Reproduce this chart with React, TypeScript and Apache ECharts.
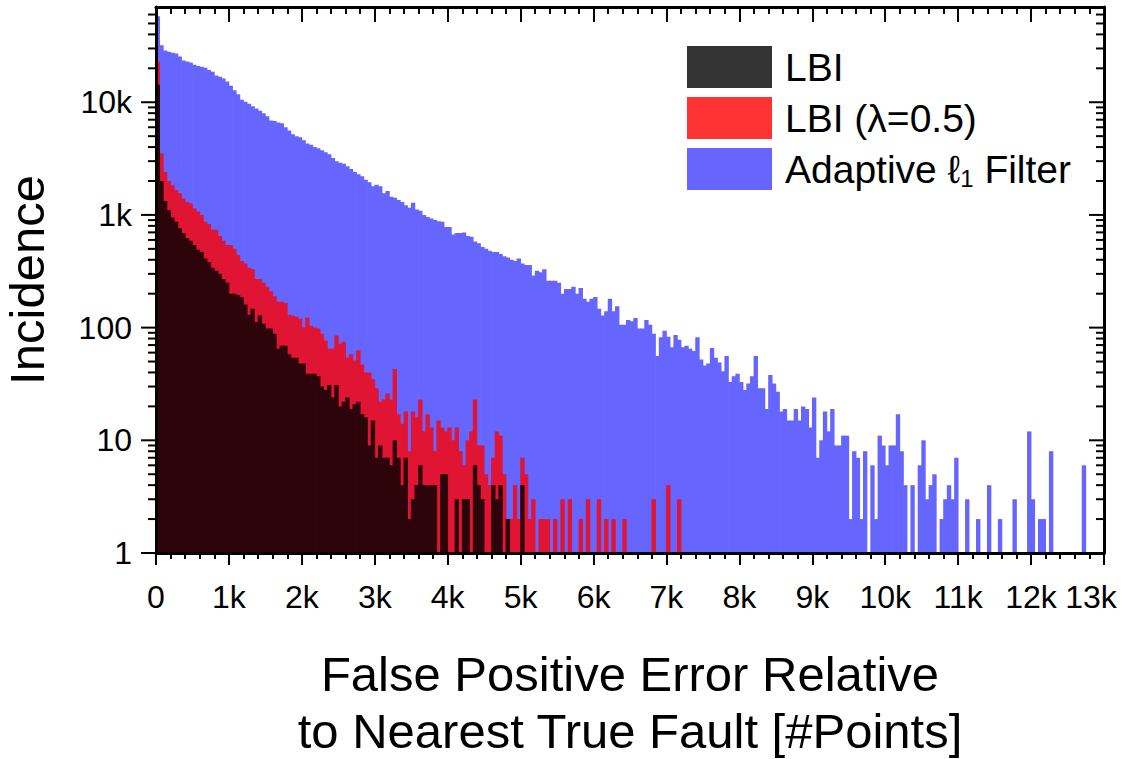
import React, { useEffect, useRef } from "react";
import * as echarts from "echarts";

const FONT = "'Liberation Sans', Arial, Helvetica, sans-serif";

// histogram bins: 50 points wide, 0 .. 13000
const binWidth = 50;
const binCount = 260;
const binStarts: number[] = Array.from({ length: binCount }, (_, i) => i * binWidth);

// Adaptive l1 Filter (blue)
const adaptiveL1: number[] = [
  58000, 32000, 28800, 28000, 27500, 27000, 25500, 23500, 23000, 22500,
  21500, 21000, 20600, 20200, 19300, 18600, 17300, 16800, 16200, 15300,
  14000, 12800, 11800, 10500, 10100, 9700, 9200, 8800, 8400, 8000,
  7500, 6900, 6800, 6600, 6500, 6000, 5600, 5200, 5000, 4900,
  4600, 4300, 4200, 4000, 3900, 3750, 3600, 3450, 3200, 3000,
  2900, 2850, 2700, 2550, 2400, 2300, 2200, 2050, 1950, 1800,
  1850, 1800, 1560, 1630, 1450, 1420, 1360, 1300, 1220, 1160,
  1280, 1120, 1090, 1000, 960, 930, 900, 880, 870, 780,
  780, 670, 690, 690, 700, 650, 640, 580, 560, 520,
  500, 480, 470, 470, 450, 430, 420, 400, 390, 410,
  370, 360, 360, 290, 320, 310, 330, 260, 260, 260,
  250, 200, 220, 220, 230, 200, 225, 180, 170, 180,
  187, 147, 128, 140, 180, 140, 155, 106, 106, 117,
  114, 122, 98, 98, 117, 106, 88, 56, 82, 94,
  83, 67, 86, 78, 67, 69, 65, 62, 82, 52,
  46, 48, 66, 54, 49, 41, 56, 33, 37, 39,
  33, 28, 32, 37, 56, 29, 29, 19, 38, 32,
  27, 18, 19, 15, 15, 19, 15, 20, 19, 13,
  24, 7, 10, 18, 12, 19, 9, 9, 11, 11,
  2, 8, 7, 2, 8, 0, 6, 2, 11, 9,
  6, 9, 9, 17, 8, 4, 0, 4, 0, 6,
  10, 3, 4, 5, 0, 2, 3, 4, 3, 7,
  0, 0, 3, 0, 0, 2, 0, 0, 4, 0,
  0, 2, 0, 0, 0, 3, 0, 0, 0, 12,
  3, 0, 2, 2, 0, 8, 0, 0, 0, 0,
  0, 0, 0, 0, 6, 0, 0, 0, 0, 0,
];

// LBI (lambda = 0.5) (red)
const lbiLambda: number[] = [
  23000, 3500, 2400, 2000, 1830, 1660, 1560, 1400, 1300, 1260,
  1140, 1070, 1000, 870, 830, 740, 740, 650, 590, 540,
  540, 500, 440, 390, 370, 340, 330, 270, 270, 250,
  230, 210, 190, 170, 170, 165, 130, 128, 125, 120,
  100, 123, 104, 100, 98, 88, 77, 65, 65, 85,
  72, 75, 54, 58, 51, 63, 47, 40, 40, 35,
  29, 22, 23, 26, 23, 43, 17, 14, 18, 8,
  18, 16, 23, 12, 17, 13, 8, 15, 13, 12,
  13, 10, 13, 8, 6, 10, 12, 23, 9, 9,
  5, 4, 7, 12, 11, 5, 2, 2, 4, 2,
  7, 5, 2, 3, 0, 2, 2, 2, 0, 2,
  0, 3, 0, 3, 0, 0, 2, 0, 3, 0,
  0, 3, 0, 2, 0, 2, 0, 0, 2, 0,
  0, 0, 0, 0, 0, 0, 3, 0, 0, 0,
  4, 0, 0, 3,
];

// LBI (black)
const lbi: number[] = [
  14300, 2000, 1330, 1100, 950, 870, 760, 690, 620, 590,
  540, 490, 470, 410, 380, 340, 320, 300, 270, 250,
  200, 200, 195, 186, 160, 130, 147, 112, 128, 108,
  98, 98, 88, 65, 69, 69, 58, 54, 54, 48,
  48, 39, 39, 39, 37, 30, 28, 31, 24, 31,
  20, 22, 24, 19, 21, 22, 17, 16, 9, 15,
  7, 9, 7, 7, 6, 10, 7, 4, 7, 2,
  3, 4, 6, 4, 4, 4, 4, 0, 5, 5,
  0, 0, 3, 0, 3, 3, 0, 6, 4, 3,
  0, 0, 4, 3, 4, 0, 2, 0, 0, 0,
  4,
];

const seriesNames = ["LBI", "LBI (λ=0.5)", "Adaptive ℓ1 Filter"];
// legend swatch colours (translucent fills on white)
const legendColors = ["#333333", "#ff3333", "#6666ff"];
// drawn colours of each layer where it overlaps the layers beneath
const barColors = ["#2d040a", "#e01433", "#6666ff"];

const X_MAX = 13000;
const X_STEP = 1000;
const Y_MIN = 1;
const Y_MAX = 70000;
const yDecades = [1, 10, 100, 1000, 10000];
const yDecadeLabels = ["1", "10", "100", "1k", "10k"];
const yMinorFactors = [2, 3, 4, 5, 6, 7, 8, 9];

const xLabel = (v: number) => (v === 0 ? "0" : `${v / 1000}k`);

const toBars = (arr: number[]) =>
  binStarts.map((_, i) => {
    const v = arr[i];
    return v && v > 0 ? v : "-";
  });

const yTickData: number[][] = [];
for (const d of yDecades) {
  yTickData.push([0, d, 1]);
  for (const f of yMinorFactors) {
    const v = d * f;
    if (v < Y_MAX) yTickData.push([0, v, 0]);
  }
}

const axisLineStyle = { color: "#000", width: 3 };
const tickLineStyle = { color: "#000", width: 2 };
const xLabelBase = { fontSize: 32, color: "#000", margin: 28, fontFamily: FONT };

// bars are slightly wider than a bin so that neighbours overlap and leave no hairline seams
const barSeries = (idx: number, data: number[]) => ({
  type: "bar",
  name: seriesNames[idx],
  xAxisIndex: 0,
  yAxisIndex: 0,
  data: toBars(data),
  barGap: "-100%",
  barCategoryGap: "-20%",
  itemStyle: { color: barColors[idx] },
  silent: true,
});

export default function App() {
  const ref = useRef<HTMLDivElement>(null);
  useEffect(() => {
    document.body.style.margin = "0";
    if (!ref.current) return;
    const chart = echarts.init(ref.current, undefined, { renderer: "svg" });
    const option: any = {
      animation: false,
      textStyle: { fontFamily: FONT },
      grid: { left: 156, right: 19, top: 7, bottom: 206, containLabel: false, outerBoundsMode: "none" },
      legend: {
        orient: "vertical",
        left: 687,
        top: 46,
        padding: 0,
        itemWidth: 85,
        itemHeight: 42,
        itemGap: 9,
        icon: "rect",
        selectedMode: false,
        data: seriesNames.map((n, i) => ({ name: n, itemStyle: { color: legendColors[i], borderWidth: 0 } })),
        formatter: (name: string) =>
          name === seriesNames[2] ? "{p|Adaptive ℓ}{s|1}{t| Filter}" : `{p|${name}}`,
        textStyle: {
          color: "#000",
          fontFamily: FONT,
          rich: {
            p: { fontSize: 39, lineHeight: 42, color: "#000", fontFamily: FONT, padding: [0, 0, 0, 8] },
            t: { fontSize: 39, lineHeight: 42, color: "#000", fontFamily: FONT },
            s: { fontSize: 24, lineHeight: 10, verticalAlign: "bottom", color: "#000", fontFamily: FONT },
          },
        },
      },
      xAxis: [
        { type: "category", data: binStarts, position: "bottom", show: false, boundaryGap: true },
        {
          type: "value",
          position: "bottom",
          min: 0,
          max: X_MAX,
          interval: X_STEP,
          z: 5,
          axisLine: { show: true, onZero: false, lineStyle: axisLineStyle },
          axisTick: { show: true, length: 12, lineStyle: tickLineStyle },
          minorTick: { show: true, splitNumber: 5, length: 6, lineStyle: tickLineStyle },
          splitLine: { show: false },
          axisLabel: {
            ...xLabelBase,
            showMinLabel: true,
            showMaxLabel: false,
            formatter: (v: number) => (v >= X_MAX ? "" : xLabel(v)),
          },
          name: "False Positive Error Relative\nto Nearest True Fault [#Points]",
          nameLocation: "middle",
          nameGap: 92,
          nameTextStyle: { fontSize: 49, color: "#000", lineHeight: 57, fontFamily: FONT },
        },
        {
          type: "value",
          position: "top",
          min: 0,
          max: X_MAX,
          interval: X_STEP,
          z: 5,
          axisLine: { show: true, onZero: false, lineStyle: axisLineStyle },
          axisTick: { show: true, inside: true, length: 15, lineStyle: tickLineStyle },
          minorTick: { show: true, splitNumber: 5, length: 7, lineStyle: tickLineStyle },
          splitLine: { show: false },
          axisLabel: { show: false },
        },
        {
          // carries only the last tick label, nudged left so it stays inside the picture
          type: "value",
          position: "bottom",
          min: 0,
          max: X_MAX,
          interval: X_STEP,
          axisLine: { show: false, onZero: false },
          axisTick: { show: false },
          splitLine: { show: false },
          axisLabel: {
            ...xLabelBase,
            showMinLabel: false,
            showMaxLabel: true,
            padding: [0, 26, 0, 0],
            formatter: (v: number) => (v >= X_MAX ? xLabel(v) : ""),
          },
        },
      ],
      yAxis: [
        {
          type: "log",
          logBase: 10,
          min: Y_MIN,
          max: Y_MAX,
          position: "left",
          z: 5,
          axisLine: { show: true, onZero: false, lineStyle: axisLineStyle },
          axisTick: { show: false },
          minorTick: { show: false },
          splitLine: { show: false },
          axisLabel: {
            fontSize: 32,
            color: "#000",
            margin: 24,
            fontFamily: FONT,
            showMaxLabel: false,
            formatter: (v: number) => {
              const i = yDecades.findIndex((d) => Math.abs(d - v) < d * 1e-6);
              return i >= 0 ? yDecadeLabels[i] : "";
            },
          },
          name: "Incidence",
          nameLocation: "middle",
          nameGap: 105,
          nameTextStyle: { fontSize: 49, color: "#000", fontFamily: FONT },
        },
        {
          type: "log",
          logBase: 10,
          min: Y_MIN,
          max: Y_MAX,
          position: "right",
          z: 5,
          axisLine: { show: true, onZero: false, lineStyle: axisLineStyle },
          axisTick: { show: false },
          splitLine: { show: false },
          axisLabel: { show: false },
        },
      ],
      series: [
        barSeries(2, adaptiveL1),
        barSeries(1, lbiLambda),
        barSeries(0, lbi),
        {
          type: "custom",
          name: "yTicks",
          xAxisIndex: 1,
          yAxisIndex: 0,
          data: yTickData,
          encode: { x: 0, y: 1 },
          clip: false,
          silent: true,
          z: 10,
          renderItem: (params: any, api: any) => {
            const v = api.value(1);
            const major = api.value(2) === 1;
            const cs = params.coordSys;
            const y = api.coord([0, v])[1];
            const l = cs.x;
            const r = cs.x + cs.width;
            const len = major ? 15 : 8;
            return {
              type: "group",
              children: [
                { type: "line", shape: { x1: l - len, y1: y, x2: l, y2: y }, style: { stroke: "#000", lineWidth: 2 } },
                { type: "line", shape: { x1: r - len, y1: y, x2: r, y2: y }, style: { stroke: "#000", lineWidth: 2 } },
              ],
            };
          },
        },
      ],
    };
    chart.setOption(option);
    return () => chart.dispose();
  }, []);
  return <div ref={ref} style={{ width: 1123, height: 759 }} />;
}
